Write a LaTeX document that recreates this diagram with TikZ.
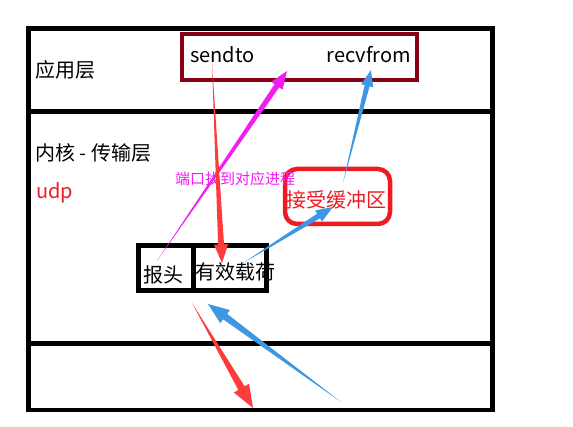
\documentclass[tikz,border=0pt]{standalone}
\usepackage{fontspec}
\usetikzlibrary{calc}
\newfontfamily\cjk{Noto Sans CJK SC}

\definecolor{appred}{HTML}{880015}
\definecolor{bufred}{HTML}{ED1C24}
\definecolor{arrred}{HTML}{FF3C3C}
\definecolor{arrblue}{HTML}{3D97E3}
\definecolor{arrmag}{HTML}{F01EF0}

% Tapered arrow: [scale]{fill colour}{tail}{tip}
\newcommand{\tarrow}[4][1]{%
  \pgfmathsetlengthmacro\hlen{17pt*#1}%
  \pgfmathsetlengthmacro\hwid{6.5pt*#1}%
  \pgfmathsetlengthmacro\swid{2.7pt*#1}%
  \fill[#2] (#3)
    -- ($(#4)!\hlen!(#3)!\swid!90:(#4)$)
    -- ($(#4)!\hlen!(#3)!\hwid!90:(#4)$)
    -- (#4)
    -- ($(#4)!\hlen!(#3)!\hwid!-90:(#4)$)
    -- ($(#4)!\hlen!(#3)!\swid!-90:(#4)$)
    -- cycle;}

\begin{document}
\begin{tikzpicture}[
    x=1pt, y=-1pt,
    % Define text and box styles
    every node/.style={font=\cjk\fontsize{20}{24}\selectfont, inner sep=0pt},
    layer/.style={line width=4.5pt},
    appbox/.style={draw=appred, line width=4pt},
    bufbox/.style={draw=bufred, line width=4.5pt, rounded corners=12pt},
    pktbox/.style={line width=5pt},
    note/.style={text=arrmag, font=\cjk\fontsize{15}{18}\selectfont}
]

% Canvas
\useasboundingbox (0,0) rectangle (573,427);
\fill[white] (0,0) rectangle (573,427);

% Layers
\draw[layer] (28.5,28.5) rectangle (492.5,410);
\draw[layer] (28.5,111.5) -- (492.5,111.5);
\draw[layer] (28.5,343.5) -- (492.5,343.5);

% Layer labels
\node[anchor=west] (app) at (35,70) {应用层};
\node[anchor=west] (kernel) at (35,153) {内核 - 传输层};
\node[anchor=base west, text=bufred] (udp) at (36,199) {udp};

% Socket calls
\draw[appbox] (181.5,34.5) rectangle (417,80);
\node[anchor=base west] (send) at (190,62.5) {sendto};
\node[anchor=base east] (recv) at (411,62.5) {recvfrom};

% Receive buffer
\draw[bufbox] (285,169) rectangle (390,224);
\node[text=bufred] (buf) at (336,200) {接受缓冲区};

% Packet
\draw[pktbox] (138.5,245.5) rectangle (266,290.5);
\draw[pktbox] (193.5,245.5) -- (193.5,290.5);
\node (hdr) at (163,275) {报头};
\node (load) at (235,272) {有效载荷};

% Note
\node[note] (port) at (235,179) {端口找到对应进程};

% Arrow end points
\coordinate (hdrtail) at (157,261);
\coordinate (sendtip) at (287,71);
\coordinate (sendtail) at (212,63);
\coordinate (loadtip) at (222,263);
\coordinate (loadtail) at (243,263);
\coordinate (buftip) at (333,207);
\coordinate (buftail) at (343,183);
\coordinate (recvtip) at (371,70);
\coordinate (downtail) at (192,303);
\coordinate (downtip) at (253,408);
\coordinate (uptail) at (341,402);
\coordinate (uptip) at (208,304);

% Arrows
\tarrow[1.05]{arrmag}{hdrtail}{sendtip}
\tarrow[1.1]{arrred}{sendtail}{loadtip}
\tarrow{arrblue}{loadtail}{buftip}
\tarrow[0.95]{arrblue}{buftail}{recvtip}
\tarrow[1.35]{arrred}{downtail}{downtip}
\tarrow[1.25]{arrblue}{uptail}{uptip}

\end{tikzpicture}
\end{document}
